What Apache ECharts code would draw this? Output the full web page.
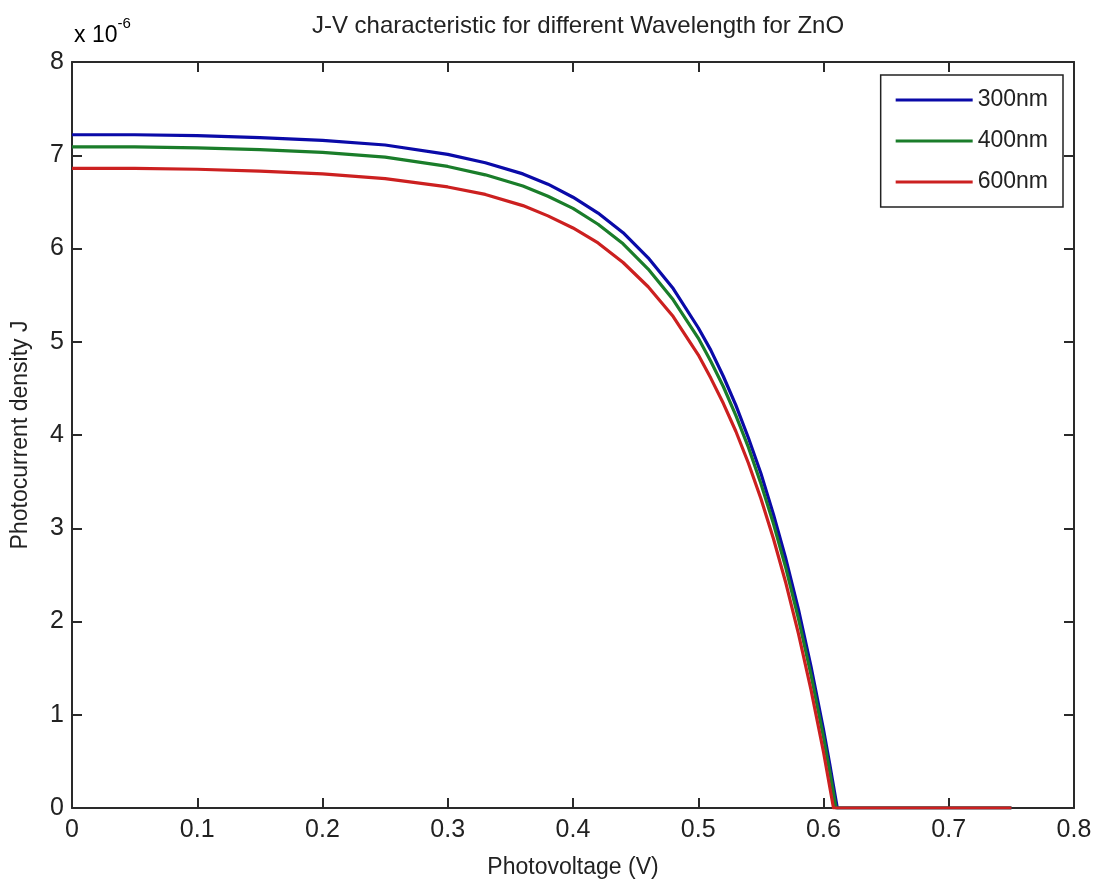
<!DOCTYPE html>
<html>
<head>
<meta charset="utf-8">
<script src="https://cdn.jsdelivr.net/npm/echarts@6/dist/echarts.min.js"></script>
<style>
html,body{margin:0;padding:0;background:#fff;}
#chart{width:1097px;height:890px;}
</style>
</head>
<body>
<div id="chart"></div>
<script>
// Photocurrent density J in units of 1e-6, versus photovoltage V
const seriesNames = ['300nm', '400nm', '600nm'];
const j300 = [[0,7.22],[0.05,7.22],[0.1,7.21],[0.15,7.19],[0.2,7.16],[0.25,7.11],[0.3,7.01],[0.33,6.92],[0.36,6.80],[0.38,6.69],[0.40,6.55],[0.42,6.38],[0.44,6.17],[0.46,5.90],[0.48,5.57],[0.50,5.15],[0.51,4.91],[0.52,4.63],[0.53,4.32],[0.54,3.97],[0.55,3.59],[0.56,3.15],[0.57,2.67],[0.58,2.13],[0.59,1.52],[0.60,0.84],[0.605,0.47],[0.611,0],[0.75,0]];
const j400 = [[0,7.09],[0.05,7.09],[0.1,7.08],[0.15,7.06],[0.2,7.03],[0.25,6.98],[0.3,6.88],[0.33,6.79],[0.36,6.67],[0.38,6.56],[0.40,6.43],[0.42,6.26],[0.44,6.05],[0.46,5.78],[0.48,5.45],[0.50,5.04],[0.51,4.79],[0.52,4.52],[0.53,4.21],[0.54,3.87],[0.55,3.48],[0.56,3.05],[0.57,2.57],[0.58,2.03],[0.59,1.43],[0.60,0.76],[0.605,0.39],[0.610,0],[0.75,0]];
const j600 = [[0,6.86],[0.05,6.86],[0.1,6.85],[0.15,6.83],[0.2,6.80],[0.25,6.75],[0.3,6.66],[0.33,6.58],[0.36,6.46],[0.38,6.35],[0.40,6.22],[0.42,6.06],[0.44,5.85],[0.46,5.59],[0.48,5.27],[0.50,4.86],[0.51,4.61],[0.52,4.34],[0.53,4.04],[0.54,3.70],[0.55,3.32],[0.56,2.89],[0.57,2.41],[0.58,1.87],[0.59,1.27],[0.60,0.60],[0.604,0.30],[0.608,0],[0.75,0]];
const xTicks = [0, 0.1, 0.2, 0.3, 0.4, 0.5, 0.6, 0.7, 0.8];
const yTicks = [0, 1, 2, 3, 4, 5, 6, 7, 8];
const colors = ['#0a0aa8', '#1a7d2a', '#cc2020'];

const FONT = '"Liberation Sans", Arial, sans-serif';
const chart = echarts.init(document.getElementById('chart'), null, {renderer: 'canvas'});

const axisLine = {show: true, onZero: false, lineStyle: {color: '#2a2a2a', width: 2}};
const tickStyle = {show: true, inside: true, length: 10, lineStyle: {color: '#2a2a2a', width: 2}};

function mkSeries(name, data, color) {
  return {
    name: name, type: 'line', data: data, smooth: false, showSymbol: false,
    lineStyle: {color: color, width: 3.2, join: 'round'}, itemStyle: {color: color},
    xAxisIndex: 0, yAxisIndex: 0, animation: false
  };
}

chart.setOption({
  animation: false,
  backgroundColor: '#fff',
  title: {
    text: 'J-V characteristic for different Wavelength for ZnO',
    left: 573, top: 9, textAlign: 'center',
    textStyle: {fontFamily: FONT, fontSize: 24, fontWeight: 'normal', color: '#222'}
  },
  grid: {left: 72, right: 23, top: 62, bottom: 82, containLabel: false, outerBoundsMode: 'none'},
  legend: {
    data: seriesNames.map(function(n){return {name: n, icon: 'rect'};}),
    orient: 'vertical', right: 34, top: 75,
    itemWidth: 77, itemHeight: 3, itemGap: 15,
    padding: [12, 15, 12, 15],
    borderColor: '#222', borderWidth: 1.5, backgroundColor: '#fff',
    textStyle: {fontFamily: FONT, fontSize: 23, color: '#222', lineHeight: 26}
  },
  xAxis: [{
    type: 'value', min: 0, max: 0.8, interval: 0.1, position: 'bottom',
    name: 'Photovoltage (V)', nameLocation: 'middle', nameGap: 48,
    nameTextStyle: {fontFamily: FONT, fontSize: 23, color: '#222'},
    axisLine: axisLine, axisTick: tickStyle, splitLine: {show: false},
    axisLabel: {fontFamily: FONT, fontSize: 25, color: '#222', margin: 10,
      formatter: function(v){ return String(+v.toFixed(1)); }}
  }, {
    type: 'value', min: 0, max: 0.8, interval: 0.1, position: 'top',
    axisLine: axisLine, axisTick: tickStyle, axisLabel: {show: false}, splitLine: {show: false}
  }],
  yAxis: [{
    type: 'value', min: 0, max: 8, interval: 1, position: 'left',
    name: 'Photocurrent density J', nameLocation: 'middle', nameGap: 40, nameRotate: 90,
    nameTextStyle: {fontFamily: FONT, fontSize: 23, color: '#222'},
    axisLine: axisLine, axisTick: tickStyle, splitLine: {show: false},
    axisLabel: {fontFamily: FONT, fontSize: 25, color: '#222', margin: 8}
  }, {
    type: 'value', min: 0, max: 8, interval: 1, position: 'right',
    axisLine: axisLine, axisTick: tickStyle, axisLabel: {show: false}, splitLine: {show: false}
  }],
  graphic: [{
    type: 'text', left: 74, top: 16,
    style: {
      text: '{a|x 10}{b|-6}',
      rich: {
        a: {fontFamily: FONT, fontSize: 23, color: '#222', verticalAlign: 'bottom'},
        b: {fontFamily: FONT, fontSize: 15, color: '#222', verticalAlign: 'top', padding: [0,0,16,0]}
      }
    }
  }],
  series: [
    mkSeries(seriesNames[0], j300, colors[0]),
    mkSeries(seriesNames[1], j400, colors[1]),
    mkSeries(seriesNames[2], j600, colors[2])
  ]
});
</script>
</body>
</html>
